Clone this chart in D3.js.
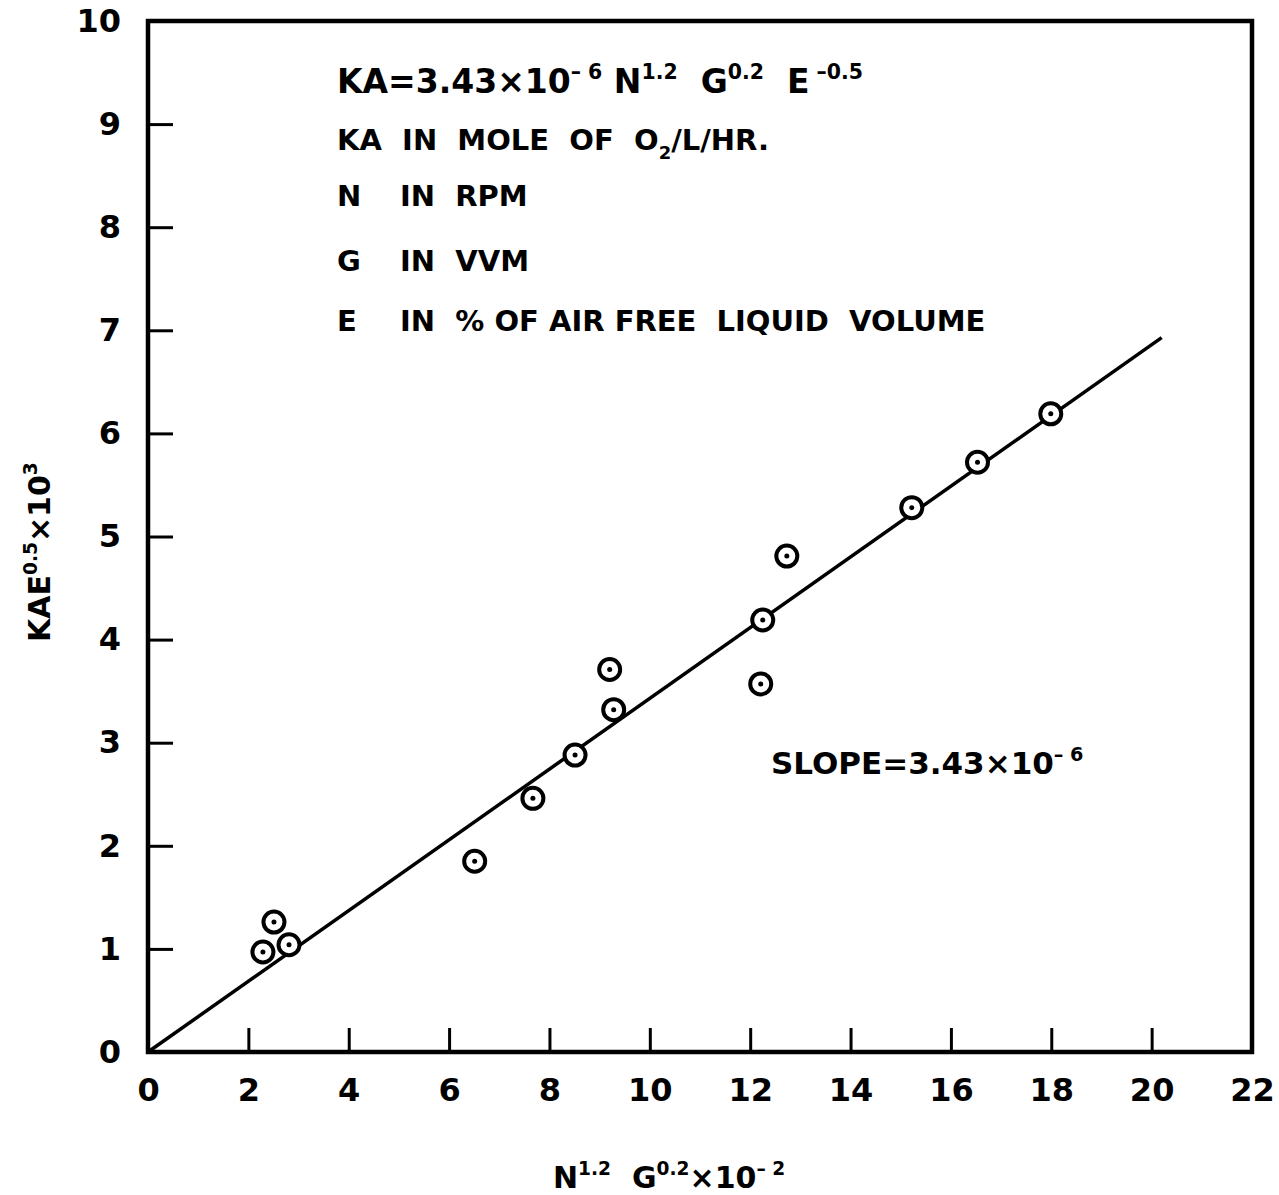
<!DOCTYPE html>
<html>
<head>
<meta charset="utf-8">
<script src="https://cdn.jsdelivr.net/npm/d3@7"></script>
<style>
  body { margin: 0; background: #fff; }
  text { font-family: "DejaVu Sans", sans-serif; font-weight: bold; fill: #000; }
</style>
</head>
<body>
<script>
var w = 1279;
var h = 1195;

// data
var xVals = [2.29, 2.51, 2.81, 6.51, 7.67, 8.51, 9.20, 9.28, 12.21, 12.25, 12.73, 15.22, 16.53, 17.99];
var yVals = [0.97, 1.26, 1.04, 1.85, 2.46, 2.88, 3.71, 3.32, 3.57, 4.19, 4.81, 5.28, 5.72, 6.19];
var xTicks = [0, 2, 4, 6, 8, 10, 12, 14, 16, 18, 20, 22];
var yTicks = [0, 1, 2, 3, 4, 5, 6, 7, 8, 9, 10];
var slope = 0.343;
var fitX = [0, 20.2];

var dataset = xVals.map(function(d, i) { return [d, yVals[i]]; });

var xScale = d3.scaleLinear().domain([0, 22]).range([148, 1252]);
var yScale = d3.scaleLinear().domain([0, 10]).range([1052, 21]);

var svg = d3.select("body")
            .append("svg")
            .attr("width", w)
            .attr("height", h);

// axes (inward ticks)
var xAxis = d3.axisBottom(xScale).tickValues(xTicks).tickSize(-24).tickPadding(26);
var yAxis = d3.axisLeft(yScale).tickValues(yTicks).tickSize(-25).tickPadding(27);

var gx = svg.append("g")
  .attr("transform", "translate(0," + yScale(0) + ")")
  .call(xAxis);
var gy = svg.append("g")
  .attr("transform", "translate(" + xScale(0) + ",0)")
  .call(yAxis);

[gx, gy].forEach(function(g) {
  g.select(".domain").remove();
  g.attr("font-size", 32);
  g.selectAll(".tick line").attr("stroke", "#000").attr("stroke-width", 3);
});

// frame
svg.append("rect")
  .attr("x", xScale(0))
  .attr("y", yScale(10))
  .attr("width", xScale(22) - xScale(0))
  .attr("height", yScale(0) - yScale(10))
  .attr("fill", "none")
  .attr("stroke", "#000")
  .attr("stroke-width", 4.5);

// fitted line
svg.append("line")
  .attr("x1", xScale(fitX[0]))
  .attr("y1", yScale(slope * fitX[0]))
  .attr("x2", xScale(fitX[1]))
  .attr("y2", yScale(slope * fitX[1]))
  .attr("stroke", "#000")
  .attr("stroke-width", 3.5);

// points: ring with centre dot
svg.selectAll("circle.ring")
  .data(dataset)
  .enter()
  .append("circle")
  .attr("class", "ring")
  .attr("cx", function(d) { return xScale(d[0]); })
  .attr("cy", function(d) { return yScale(d[1]); })
  .attr("r", 10.5)
  .attr("fill", "#fff")
  .attr("stroke", "#000")
  .attr("stroke-width", 4);

svg.selectAll("circle.dot")
  .data(dataset)
  .enter()
  .append("circle")
  .attr("class", "dot")
  .attr("cx", function(d) { return xScale(d[0]); })
  .attr("cy", function(d) { return yScale(d[1]); })
  .attr("r", 2.5)
  .attr("fill", "#000");

// text with super/subscripts; parts = [string, kind, x]
function rich(g, x, y, size, parts) {
  var t = g.append("text")
    .attr("x", x)
    .attr("y", y)
    .attr("font-size", size)
    .style("white-space", "pre");
  var cur = 0;
  parts.forEach(function(p) {
    var target = 0, fs = size;
    if (p[1] === "sup") { target = -size * 0.42; fs = size * 0.62; }
    if (p[1] === "sub") { target = size * 0.3; fs = size * 0.62; }
    var s = t.append("tspan").text(p[0]).attr("font-size", fs);
    if (target !== cur) s.attr("dy", target - cur);
    if (p[2] != null) s.attr("x", p[2]);
    cur = target;
  });
  return t;
}

rich(svg, 337, 93, 33, [
  ["KA=3.43\u00d710"], ["\u2013 6", "sup"], [" N"], ["1.2", "sup"], ["  G"], ["0.2", "sup"], ["  E"], [" \u20130.5", "sup"]
]);
rich(svg, 337, 150, 29, [["KA  IN  MOLE  OF  O"], ["2", "sub"], ["/L/HR."]]);
rich(svg, 337, 206, 29, [["N"], ["IN  RPM", null, 400]]);
rich(svg, 337, 271, 29, [["G"], ["IN  VVM", null, 400]]);
rich(svg, 337, 331, 29, [["E"], ["IN  % OF AIR FREE  LIQUID  VOLUME", null, 400]]);

rich(svg, 771, 774, 31, [["SLOPE=3.43\u00d710"], ["\u2013 6", "sup"]]);

// axis titles
rich(svg, 553, 1188, 30, [["N"], ["1.2", "sup"], ["  G"], ["0.2", "sup"], ["\u00d710"], ["\u2013 2", "sup"]]);

var yt = svg.append("g").attr("transform", "translate(50,642) rotate(-90)");
rich(yt, 0, 0, 30, [["KAE"], ["0.5", "sup"], ["\u00d710"], ["3", "sup"]]);
</script>
</body>
</html>
